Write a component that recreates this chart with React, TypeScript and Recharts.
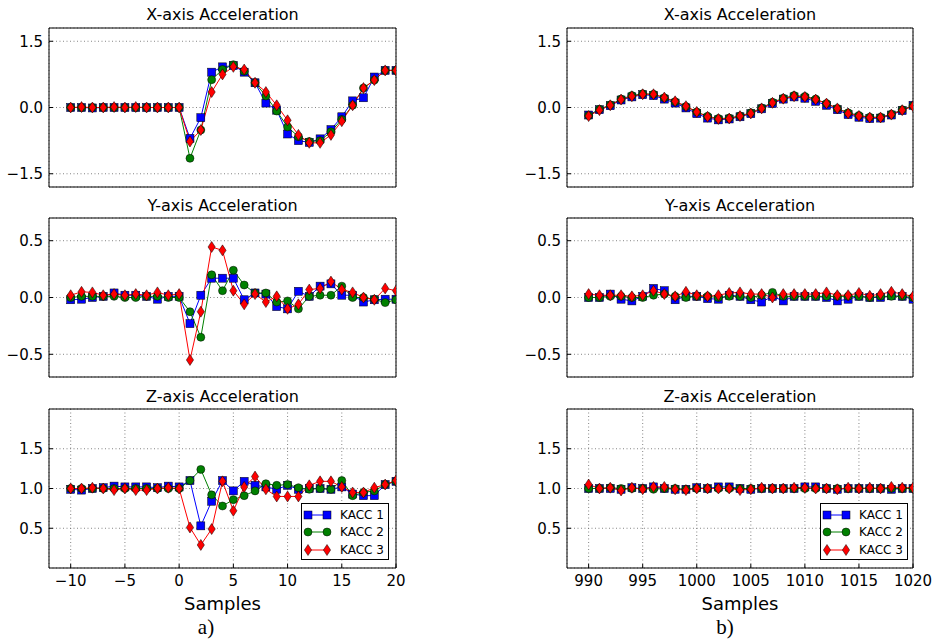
import { LineChart, Line, XAxis, YAxis, CartesianGrid, Legend } from "recharts";

// sample indices
const samplesA = [-10, -9, -8, -7, -6, -5, -4, -3, -2, -1, 0, 1, 2, 3, 4, 5, 6, 7, 8, 9, 10, 11, 12, 13, 14, 15, 16, 17, 18, 19, 20];
const samplesB = [990, 991, 992, 993, 994, 995, 996, 997, 998, 999, 1000, 1001, 1002, 1003, 1004, 1005, 1006, 1007, 1008, 1009, 1010, 1011, 1012, 1013, 1014, 1015, 1016, 1017, 1018, 1019, 1020];

const ticksA = [-10, -5, 0, 5, 10, 15, 20];
const ticksB = [990, 995, 1000, 1005, 1010, 1015, 1020];

// a) X-axis
const xA1 = [0, 0, -0.01, 0, 0, 0, 0, 0, 0, 0, 0, -0.7, -0.23, 0.8, 0.92, 0.95, 0.8, 0.56, 0.1, -0.06, -0.6, -0.75, -0.79, -0.71, -0.5, -0.21, 0.15, 0.22, 0.69, 0.84, 0.84];
const xA2 = [0, 0, 0, 0, 0, 0, 0, 0, 0, 0, 0, -1.15, -0.51, 0.63, 0.86, 0.97, 0.82, 0.56, 0.26, -0.08, -0.44, -0.66, -0.77, -0.75, -0.55, -0.27, 0.05, 0.44, 0.62, 0.84, 0.84];
const xA3 = [0, 0.01, 0, 0, 0.01, 0, 0.01, 0, 0, 0, 0, -0.77, -0.51, 0.35, 0.75, 0.92, 0.86, 0.56, 0.35, 0.05, -0.29, -0.62, -0.8, -0.8, -0.62, -0.31, 0.05, 0.44, 0.62, 0.84, 0.84];

// a) Y-axis
const yA1 = [-0.02, -0.015, 0, 0.01, 0.04, 0.02, 0.02, 0.01, -0.015, 0.01, 0.01, -0.23, 0.02, 0.17, 0.17, 0.17, -0.02, 0.04, 0.03, -0.08, -0.1, 0.055, 0.01, 0.1, 0.12, 0.02, 0.02, -0.04, -0.02, -0.015, -0.015];
const yA2 = [0, 0.01, 0.01, 0.01, 0.01, 0, 0, 0.01, 0.01, 0, 0, -0.125, -0.35, 0.2, 0.06, 0.24, 0.11, 0.04, 0.04, -0.04, -0.03, -0.1, 0.01, 0.02, 0.02, 0.1, 0, 0, -0.015, -0.045, -0.02];
const yA3 = [0.02, 0.05, 0.045, 0.02, 0.03, 0.02, 0.03, 0.02, 0.045, 0.02, 0.03, -0.55, -0.125, 0.445, 0.415, 0.06, -0.06, 0.03, -0.04, 0.01, -0.1, -0.06, 0.07, 0.08, 0.14, 0.07, 0.045, 0, -0.02, 0.08, 0.06];

// a) Z-axis
const zA1 = [0.99, 0.98, 1.0, 1.01, 1.03, 1.02, 1.02, 1.02, 1.01, 1.03, 1.02, 1.1, 0.53, 0.84, 1.1, 0.97, 1.09, 1.04, 1.02, 0.99, 1.04, 0.99, 1.0, 1.0, 0.99, 1.02, 0.93, 0.91, 0.91, 1.05, 1.09];
const zA2 = [1.0, 1.0, 1.0, 1.0, 1.0, 1.0, 1.0, 1.0, 1.0, 1.0, 1.0, 1.1, 1.24, 0.92, 0.78, 0.86, 0.91, 0.97, 1.06, 1.04, 1.05, 1.01, 0.99, 1.0, 0.99, 1.1, 0.91, 0.95, 0.97, 1.05, 1.09];
const zA3 = [1.0, 1.0, 1.01, 1.0, 0.98, 1.0, 0.98, 0.98, 1.0, 1.01, 1.0, 0.51, 0.29, 0.49, 1.09, 0.72, 1.02, 1.15, 0.99, 0.9, 0.9, 0.9, 1.04, 1.09, 1.09, 1.02, 0.95, 0.95, 1.01, 1.05, 1.1];

// b) X-axis
const xB1 = [-0.17, -0.05, 0.04, 0.17, 0.24, 0.29, 0.27, 0.19, 0.1, -0.01, -0.14, -0.24, -0.28, -0.26, -0.21, -0.14, -0.03, 0.09, 0.19, 0.24, 0.21, 0.14, 0.05, -0.05, -0.16, -0.22, -0.25, -0.24, -0.17, -0.07, 0.05];
const xB2 = [-0.18, -0.04, 0.06, 0.19, 0.27, 0.31, 0.3, 0.22, 0.13, 0.02, -0.1, -0.2, -0.25, -0.24, -0.19, -0.12, -0.01, 0.12, 0.21, 0.27, 0.25, 0.19, 0.09, -0.02, -0.12, -0.18, -0.22, -0.22, -0.15, -0.05, 0.04];
const xB3 = [-0.195, -0.06, 0.05, 0.18, 0.255, 0.3, 0.3, 0.225, 0.14, 0.03, -0.1, -0.21, -0.26, -0.25, -0.195, -0.135, -0.02, 0.105, 0.2, 0.255, 0.24, 0.18, 0.09, -0.02, -0.135, -0.19, -0.225, -0.225, -0.16, -0.06, 0.03];

// b) Y-axis
const yB1 = [0, 0, 0.03, -0.015, -0.03, 0.01, 0.08, 0.06, -0.02, 0.01, 0.01, -0.01, -0.015, 0.02, 0.01, -0.02, -0.04, 0.01, -0.03, 0.01, 0.01, 0.01, 0, -0.03, -0.015, 0.01, 0, 0, 0.015, 0.01, -0.015];
const yB2 = [0, 0, 0.01, 0.01, 0, 0, 0.02, 0.03, 0.01, 0, 0.01, 0.01, 0, 0.01, 0.01, 0, 0.02, 0.045, 0.01, 0.01, 0.01, 0.01, 0.01, 0.01, 0.01, 0.01, 0, 0.01, 0.01, 0.01, 0];
const yB3 = [0.03, 0.02, 0.02, 0.02, 0.01, 0.02, 0.06, 0.03, 0.01, 0.05, 0.02, 0.01, 0.02, 0.04, 0.045, 0.03, 0.03, 0, 0.03, 0.03, 0.03, 0.03, 0.045, 0.02, 0.02, 0.04, 0.015, 0.03, 0.05, 0.03, 0.01];

// b) Z-axis
const zB1 = [1.0, 1.0, 1.0, 0.99, 1.01, 1.0, 1.02, 1.0, 0.99, 0.99, 1.01, 1.0, 1.02, 1.02, 1.0, 0.99, 1.0, 1.0, 1.0, 1.0, 1.02, 1.02, 1.0, 0.99, 1.0, 1.0, 1.0, 1.0, 0.99, 1.0, 1.0];
const zB2 = [1.0, 1.0, 1.01, 1.0, 1.0, 1.0, 0.99, 1.0, 1.0, 0.99, 1.0, 1.0, 1.0, 1.0, 1.0, 1.0, 1.0, 1.0, 1.0, 1.0, 1.0, 1.0, 1.0, 1.0, 1.0, 1.0, 1.0, 1.0, 1.0, 1.0, 1.0];
const zB3 = [1.05, 1.0, 1.01, 0.975, 1.01, 0.99, 1.02, 1.02, 0.99, 0.98, 1.0, 1.0, 1.0, 1.0, 0.98, 0.99, 1.01, 1.0, 1.0, 1.01, 1.01, 1.0, 1.0, 0.99, 1.01, 1.0, 1.01, 1.0, 1.02, 1.01, 1.01];

const seriesNames = ["KACC 1", "KACC 2", "KACC 3"];

const BLUE = "#0000ff";
const GREEN = "#008000";
const RED = "#ff0000";

const YW = 50;
const TOPH = 5;
const BOTH = 30;
const RW = 5;
const RM = 25; // room for the last x tick label
const COLS = [
  { left: 49, width: 347 },
  { left: 567, width: 346 },
];
const ROWS = [
  { top: 28, height: 159 },
  { top: 218, height: 159 },
  { top: 409, height: 159 },
];

const minus = (s: string) => s.replace("-", "\u2212");
const fmtX = (v: number) => minus(String(v));
const fmtY = (v: number) => minus(v.toFixed(1));

const build = (xs: number[], a: number[], b: number[], c: number[]) =>
  xs.map((x, i) => ({ x, k1: a[i], k2: b[i], k3: c[i] }));

function Square(p: any) {
  if (p.cx == null || p.cy == null) return <g key={`s${p.index}`} />;
  return <rect key={`s${p.index}`} x={p.cx - 4} y={p.cy - 4} width={8} height={8} fill={BLUE} stroke="#000" strokeWidth={0.5} />;
}
function Circle(p: any) {
  if (p.cx == null || p.cy == null) return <g key={`c${p.index}`} />;
  return <circle key={`c${p.index}`} cx={p.cx} cy={p.cy} r={4} fill={GREEN} stroke="#000" strokeWidth={0.5} />;
}
function Diamond(p: any) {
  if (p.cx == null || p.cy == null) return <g key={`d${p.index}`} />;
  const { cx, cy } = p;
  return (
    <polygon
      key={`d${p.index}`}
      points={`${cx},${cy - 5.5} ${cx + 3.6},${cy} ${cx},${cy + 5.5} ${cx - 3.6},${cy}`}
      fill={RED}
      stroke="#000"
      strokeWidth={0.5}
    />
  );
}

function LegendBox() {
  const marks = [
    (x: number) => <rect x={x - 4} y={2} width={8} height={8} fill={BLUE} stroke="#000" strokeWidth={0.5} />,
    (x: number) => <circle cx={x} cy={6} r={4} fill={GREEN} stroke="#000" strokeWidth={0.5} />,
    (x: number) => <polygon points={`${x},0.5 ${x + 3.6},6 ${x},11.5 ${x - 3.6},6`} fill={RED} stroke="#000" strokeWidth={0.5} />,
  ];
  const colors = [BLUE, GREEN, RED];
  return (
    <div
      style={{
        width: 88,
        height: 57,
        border: "1px solid #000",
        background: "#fff",
        fontSize: 12,
        color: "#000",
        boxSizing: "border-box",
        paddingTop: 2,
      }}
    >
      {seriesNames.map((n, i) => (
        <div key={n} style={{ display: "flex", alignItems: "center", height: 17.5 }}>
          <svg width={38} height={12} style={{ display: "block" }}>
            <line x1={6} y1={6} x2={25} y2={6} stroke={colors[i]} strokeWidth={1} />
            {marks[i](6)}
            {marks[i](25)}
          </svg>
          <span>{n}</span>
        </div>
      ))}
    </div>
  );
}

type PanelProps = {
  col: number;
  row: number;
  title: string;
  data: { x: number; k1: number; k2: number; k3: number }[];
  xDomain: [number, number];
  xTicks: number[];
  yDomain: [number, number];
  yTicks: number[];
  showX?: boolean;
  legend?: boolean;
};

function Panel({ col, row, title, data, xDomain, xTicks, yDomain, yTicks, showX, legend }: PanelProps) {
  const c = COLS[col];
  const r = ROWS[row];
  const titleTop = [7, 198, 389][row];
  return (
    <>
      <div
        style={{
          position: "absolute",
          left: c.left,
          top: titleTop,
          width: c.width,
          textAlign: "center",
          fontSize: 16,
          lineHeight: "16px",
        }}
      >
        {title}
      </div>
      <div style={{ position: "absolute", left: c.left - YW, top: r.top - TOPH }}>
        <LineChart
          width={YW + c.width + RW + RM}
          height={TOPH + r.height + BOTH}
          data={data}
          margin={{ top: 0, right: RM, bottom: 0, left: 0 }}
        >
          <CartesianGrid stroke="#666" strokeDasharray="1 2.5" strokeWidth={0.8} />
          <XAxis
            dataKey="x"
            type="number"
            domain={xDomain}
            ticks={xTicks}
            allowDataOverflow
            interval={0}
            height={BOTH}
            axisLine={{ stroke: "#000" }}
            tickLine={{ stroke: "#000" }}
            tickSize={-4}
            tickMargin={11}
            tick={showX ? { fill: "#000", fontSize: 15 } : false}
            tickFormatter={fmtX}
          />
          <XAxis
            xAxisId="top"
            orientation="top"
            dataKey="x"
            type="number"
            domain={xDomain}
            ticks={xTicks}
            allowDataOverflow
            interval={0}
            height={TOPH}
            axisLine={{ stroke: "#000" }}
            tickLine={{ stroke: "#000" }}
            tickSize={-4}
            tick={false}
          />
          <YAxis
            type="number"
            domain={yDomain}
            ticks={yTicks}
            allowDataOverflow
            interval={0}
            width={YW}
            axisLine={{ stroke: "#000" }}
            tickLine={{ stroke: "#000" }}
            tickSize={-4}
            tickMargin={10}
            tick={{ fill: "#000", fontSize: 15 }}
            tickFormatter={fmtY}
          />
          <YAxis
            yAxisId="right"
            orientation="right"
            type="number"
            domain={yDomain}
            ticks={yTicks}
            allowDataOverflow
            interval={0}
            width={RW}
            axisLine={{ stroke: "#000" }}
            tickLine={{ stroke: "#000" }}
            tickSize={-4}
            tick={false}
          />
          <Line dataKey="k1" name={seriesNames[0]} type="linear" stroke={BLUE} strokeWidth={1} dot={Square} activeDot={false} isAnimationActive={false} />
          <Line dataKey="k2" name={seriesNames[1]} type="linear" stroke={GREEN} strokeWidth={1} dot={Circle} activeDot={false} isAnimationActive={false} />
          <Line dataKey="k3" name={seriesNames[2]} type="linear" stroke={RED} strokeWidth={1} dot={Diamond} activeDot={false} isAnimationActive={false} />
          {legend && (
            <Legend
              layout="vertical"
              align="center"
              verticalAlign="middle"
              content={() => <LegendBox />}
              wrapperStyle={{ left: col === 0 ? 302 : 303, top: 99, width: 88, height: 57 }}
            />
          )}
        </LineChart>
      </div>
    </>
  );
}

export default function App() {
  const dXA = build(samplesA, xA1, xA2, xA3);
  const dYA = build(samplesA, yA1, yA2, yA3);
  const dZA = build(samplesA, zA1, zA2, zA3);
  const dXB = build(samplesB, xB1, xB2, xB3);
  const dYB = build(samplesB, yB1, yB2, yB3);
  const dZB = build(samplesB, zB1, zB2, zB3);

  const xDomA: [number, number] = [-12, 20];
  const xDomB: [number, number] = [988, 1020];
  const yDomX: [number, number] = [-1.8, 1.8];
  const yDomY: [number, number] = [-0.7, 0.7];
  const yDomZ: [number, number] = [0, 2];
  const yTicksX = [-1.5, 0, 1.5];
  const yTicksY = [-0.5, 0, 0.5];
  const yTicksZ = [0.5, 1.0, 1.5];

  return (
    <div
      style={{
        position: "absolute",
        left: 0,
        top: 0,
        width: 939,
        height: 640,
        background: "#fff",
        fontFamily: "'DejaVu Sans', sans-serif",
        color: "#000",
        overflow: "hidden",
      }}
    >
      <Panel col={0} row={0} title="X-axis Acceleration" data={dXA} xDomain={xDomA} xTicks={ticksA} yDomain={yDomX} yTicks={yTicksX} />
      <Panel col={0} row={1} title="Y-axis Acceleration" data={dYA} xDomain={xDomA} xTicks={ticksA} yDomain={yDomY} yTicks={yTicksY} />
      <Panel col={0} row={2} title="Z-axis Acceleration" data={dZA} xDomain={xDomA} xTicks={ticksA} yDomain={yDomZ} yTicks={yTicksZ} showX legend />
      <Panel col={1} row={0} title="X-axis Acceleration" data={dXB} xDomain={xDomB} xTicks={ticksB} yDomain={yDomX} yTicks={yTicksX} />
      <Panel col={1} row={1} title="Y-axis Acceleration" data={dYB} xDomain={xDomB} xTicks={ticksB} yDomain={yDomY} yTicks={yTicksY} />
      <Panel col={1} row={2} title="Z-axis Acceleration" data={dZB} xDomain={xDomB} xTicks={ticksB} yDomain={yDomZ} yTicks={yTicksZ} showX legend />

      <div style={{ position: "absolute", left: COLS[0].left, top: 595, width: COLS[0].width, textAlign: "center", fontSize: 18, lineHeight: "18px" }}>
        Samples
      </div>
      <div style={{ position: "absolute", left: COLS[1].left, top: 595, width: COLS[1].width, textAlign: "center", fontSize: 18, lineHeight: "18px" }}>
        Samples
      </div>
      <div style={{ position: "absolute", left: 191, top: 617, width: 30, textAlign: "center", fontSize: 21, lineHeight: "21px", fontFamily: "'Liberation Serif', serif" }}>
        a)
      </div>
      <div style={{ position: "absolute", left: 710, top: 617, width: 30, textAlign: "center", fontSize: 21, lineHeight: "21px", fontFamily: "'Liberation Serif', serif" }}>
        b)
      </div>
    </div>
  );
}
